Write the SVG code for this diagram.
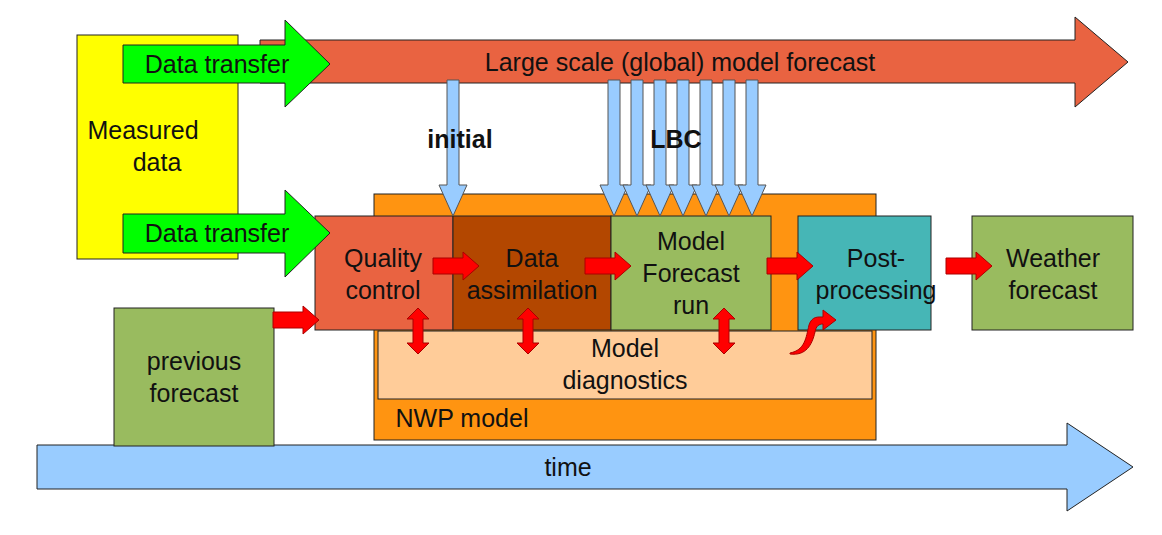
<svg xmlns="http://www.w3.org/2000/svg" width="1162" height="535" viewBox="0 0 1162 535">
<style>
text{font-family:"Liberation Sans",Arial,sans-serif;fill:#111;text-anchor:middle}
.b{stroke:#222;stroke-width:1}
.t{font-size:25px}
.blue{fill:#99ccff;stroke:#555;stroke-width:1}
.red{fill:#ff0000;stroke:#a00;stroke-width:1}
</style>
<defs>
<path id="dn" d="M-6,0 H6 V105 H14 L0,136 L-14,105 H-6 Z"/>
<path id="rt" d="M0,-8 H30 V-14 L46,0 L30,14 V8 H0 Z"/>
<path id="ud" d="M0,0 L11,11 H5 V35 H11 L0,46 L-11,35 H-5 V11 H-11 Z"/>
</defs>
<g id="large"><path class="b" fill="#e96341" d="M260,40 H1075 V17 L1128,62 L1075,107 V83 H260 Z"/><text class="t" x="680" y="71">Large scale (global) model forecast</text></g>
<g id="timeg"><path class="b" fill="#99ccff" d="M37,445 H1067 V423 L1133,467 L1067,511 V489 H37 Z"/><text class="t" x="568" y="476">time</text></g>
<g id="measured"><rect class="b" fill="#ffff00" x="77" y="35" width="161" height="224"/><text class="t" x="143" y="139">Measured</text><text class="t" x="157" y="171">data</text></g>
<g id="nwp"><rect class="b" fill="#ff9411" x="374" y="194" width="502" height="246"/><text class="t" x="462" y="427">NWP model</text></g>
<g id="diag"><rect class="b" fill="#ffcc99" x="378" y="331" width="494" height="68"/><text class="t" x="625" y="357">Model</text><text class="t" x="625" y="389">diagnostics</text></g>
<g id="qc"><rect class="b" fill="#e96341" x="315" y="216" width="138" height="114"/><text class="t" x="383" y="267">Quality</text><text class="t" x="383" y="299">control</text></g>
<g id="da"><rect class="b" fill="#b34700" x="453" y="216" width="158" height="114"/><text class="t" x="532" y="267">Data</text><text class="t" x="532" y="299">assimilation</text></g>
<g id="mfr"><rect class="b" fill="#99bb5f" x="611" y="216" width="160" height="114"/><text class="t" x="691" y="250">Model</text><text class="t" x="691" y="282">Forecast</text><text class="t" x="691" y="314">run</text></g>
<g id="pp"><rect class="b" fill="#46b6b6" x="798" y="216" width="133" height="114"/><text class="t" x="876" y="267">Post-</text><text class="t" x="876" y="299">processing</text></g>
<g id="wf"><rect class="b" fill="#99bb5f" x="972" y="216" width="161" height="114"/><text class="t" x="1053" y="267">Weather</text><text class="t" x="1053" y="299">forecast</text></g>
<g id="prev"><rect class="b" fill="#99bb5f" x="114" y="308" width="160" height="138"/><text class="t" x="194" y="370">previous</text><text class="t" x="194" y="402">forecast</text></g>
<g id="dt1"><path class="b" fill="#00ff00" d="M123,45 H285 V20 L330,64 L285,107 V83 H123 Z"/><text class="t" x="217" y="73">Data transfer</text></g>
<g id="dt2"><path class="b" fill="#00ff00" d="M123,214 H285 V190 L330,233 L285,277 V253 H123 Z"/><text class="t" x="217" y="242">Data transfer</text></g>
<g id="connectors">
<use href="#dn" class="blue" x="453" y="80"/>
<use href="#dn" class="blue" x="614" y="80"/>
<use href="#dn" class="blue" x="637" y="80"/>
<use href="#dn" class="blue" x="660" y="80"/>
<use href="#dn" class="blue" x="683" y="80"/>
<use href="#dn" class="blue" x="706" y="80"/>
<use href="#dn" class="blue" x="729" y="80"/>
<use href="#dn" class="blue" x="752" y="80"/>
<use href="#rt" class="red" x="433" y="266"/>
<use href="#rt" class="red" x="585" y="266"/>
<use href="#rt" class="red" x="767" y="266"/>
<use href="#rt" class="red" x="946" y="266"/>
<use href="#rt" class="red" x="273" y="320"/>
<use href="#ud" class="red" x="418" y="308"/>
<use href="#ud" class="red" x="528" y="308"/>
<use href="#ud" class="red" x="724" y="308"/>
<path class="red" d="M790,353 C805,350 806,338 809,325 C812,316 818,317 823,317 V310 L836,320 L823,330 V324 C819,324 816,326 815,332 C812,345 806,356 790,354 Z"/>
</g>
<text x="460" y="148" style="font-size:25px;font-weight:bold">initial</text>
<text x="676" y="148" style="font-size:25px;font-weight:bold">LBC</text>
</svg>
